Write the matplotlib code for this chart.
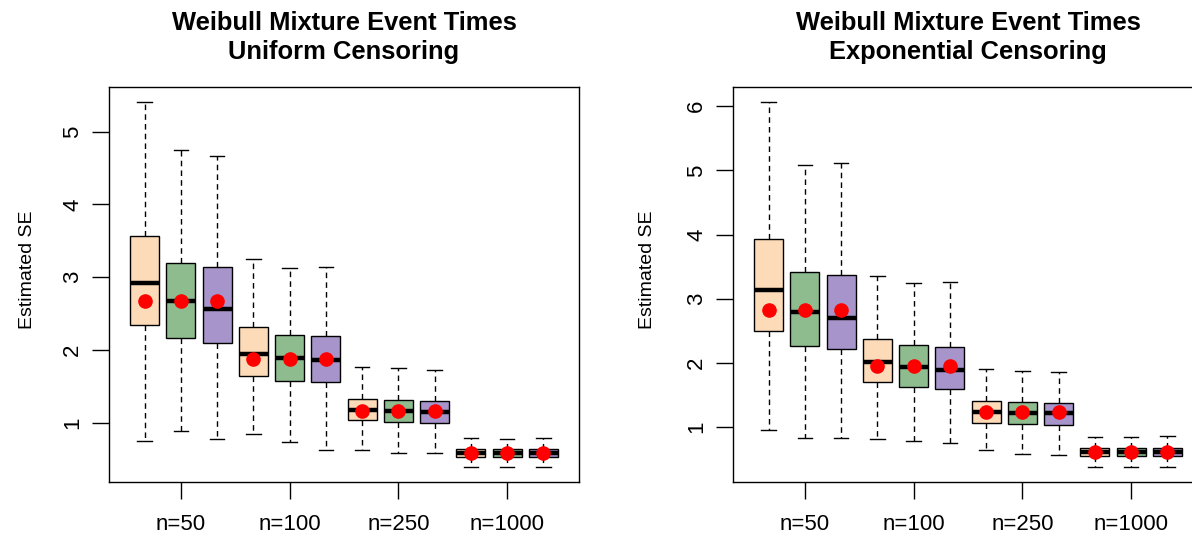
import matplotlib
matplotlib.use("Agg")
import matplotlib.pyplot as plt

plt.rcParams['font.family'] = ['Liberation Sans', 'DejaVu Sans']

sample_sizes = ["n=50", "n=100", "n=250", "n=1000"]
box_colors = ["#FDDAB8", "#8FBC8F", "#A794CA"]

# Uniform censoring (12 boxes: 4 sample sizes x 3 methods)
uni_whislo = [0.75, 0.895, 0.775, 0.853, 0.734, 0.633, 0.624, 0.583, 0.583, 0.39, 0.40, 0.40]
uni_q1     = [2.34, 2.16, 2.095, 1.64, 1.577, 1.559, 1.037, 1.018, 1.00, 0.537, 0.537, 0.537]
uni_med    = [2.92, 2.67, 2.57, 1.95, 1.89, 1.857, 1.18, 1.165, 1.147, 0.588, 0.588, 0.588]
uni_q3     = [3.57, 3.20, 3.14, 2.31, 2.20, 2.19, 1.33, 1.31, 1.30, 0.643, 0.643, 0.643]
uni_whishi = [5.41, 4.75, 4.66, 3.25, 3.126, 3.135, 1.77, 1.75, 1.733, 0.79, 0.78, 0.79]
uni_mean   = [2.68, 2.68, 2.68, 1.88, 1.88, 1.88, 1.17, 1.17, 1.17, 0.583, 0.583, 0.583]

# Exponential censoring
exp_whislo = [0.953, 0.833, 0.833, 0.81, 0.79, 0.75, 0.64, 0.59, 0.5625, 0.375, 0.375, 0.375]
exp_q1     = [2.495, 2.27, 2.22, 1.70, 1.625, 1.59, 1.06, 1.05, 1.04, 0.552, 0.552, 0.547]
exp_med    = [3.14, 2.79, 2.70, 2.01, 1.94, 1.885, 1.24, 1.224, 1.22, 0.62, 0.62, 0.615]
exp_q3     = [3.93, 3.41, 3.375, 2.375, 2.276, 2.255, 1.406, 1.39, 1.38, 0.677, 0.677, 0.677]
exp_whishi = [6.07, 5.09, 5.11, 3.36, 3.25, 3.26, 1.90, 1.875, 1.86, 0.854, 0.854, 0.865]
exp_mean   = [2.82, 2.82, 2.82, 1.96, 1.96, 1.96, 1.23, 1.23, 1.23, 0.615, 0.615, 0.615]

titles = ["Weibull Mixture Event Times\nUniform Censoring",
          "Weibull Mixture Event Times\nExponential Censoring"]
yticks_list = [[1, 2, 3, 4, 5], [1, 2, 3, 4, 5, 6]]

fig = plt.figure(figsize=(11.92, 5.34), dpi=100)
ax_w = 470 / 1192
ax_b = 1 - 482 / 534
ax_h = (482 - 87) / 534
axes = [fig.add_axes([109 / 1192, ax_b, ax_w, ax_h]),
        fig.add_axes([733 / 1192, ax_b, ax_w, ax_h])]
label_x = [-0.155, -0.163]

panels = [
    (uni_whislo, uni_q1, uni_med, uni_q3, uni_whishi, uni_mean),
    (exp_whislo, exp_q1, exp_med, exp_q3, exp_whishi, exp_mean),
]

for ax, data, title, yt, lx in zip(axes, panels, titles, yticks_list, label_x):
    wlo, q1, med, q3, whi, mean = data
    stats = []
    for i in range(len(med)):
        stats.append(dict(whislo=wlo[i], q1=q1[i], med=med[i], q3=q3[i],
                          whishi=whi[i], mean=mean[i], fliers=[]))
    positions = list(range(1, len(med) + 1))
    bp = ax.bxp(stats, positions=positions, widths=0.8, patch_artist=True,
                showmeans=True, showfliers=False,
                boxprops=dict(edgecolor="black", linewidth=1.0),
                medianprops=dict(color="black", linewidth=3.2, solid_capstyle="butt"),
                whiskerprops=dict(color="black", linewidth=1.0, linestyle=(0, (4, 3))),
                capprops=dict(color="black", linewidth=1.0),
                capwidths=0.4,
                meanprops=dict(marker="o", markerfacecolor="red", markeredgecolor="red",
                               markersize=9.5))
    for j, patch in enumerate(bp["boxes"]):
        patch.set_facecolor(box_colors[j % 3])
    lo = min(wlo)
    hi = max(whi)
    rng = hi - lo
    ax.set_ylim(lo - 0.04 * rng, hi + 0.04 * rng)
    ax.set_xlim(0.5 - 0.48, 12.5 + 0.48)
    ax.set_xticks([2, 5, 8, 11])
    ax.set_xticklabels(sample_sizes)
    ax.set_yticks(yt)
    ax.set_yticklabels([str(v) for v in yt], rotation=90, va="center")
    ax.tick_params(axis="x", length=12, width=1, pad=11, labelsize=16)
    ax.tick_params(axis="y", length=12, width=1, pad=6.5, labelsize=16)
    for sp in ax.spines.values():
        sp.set_linewidth(1.0)
    ax.set_ylabel("Estimated SE", fontsize=14)
    ax.yaxis.set_label_coords(lx, 0.537)
    ax.set_title(title, fontsize=18.4, fontweight="bold", pad=20, linespacing=1.25)

fig.savefig("out.png", dpi=100)
